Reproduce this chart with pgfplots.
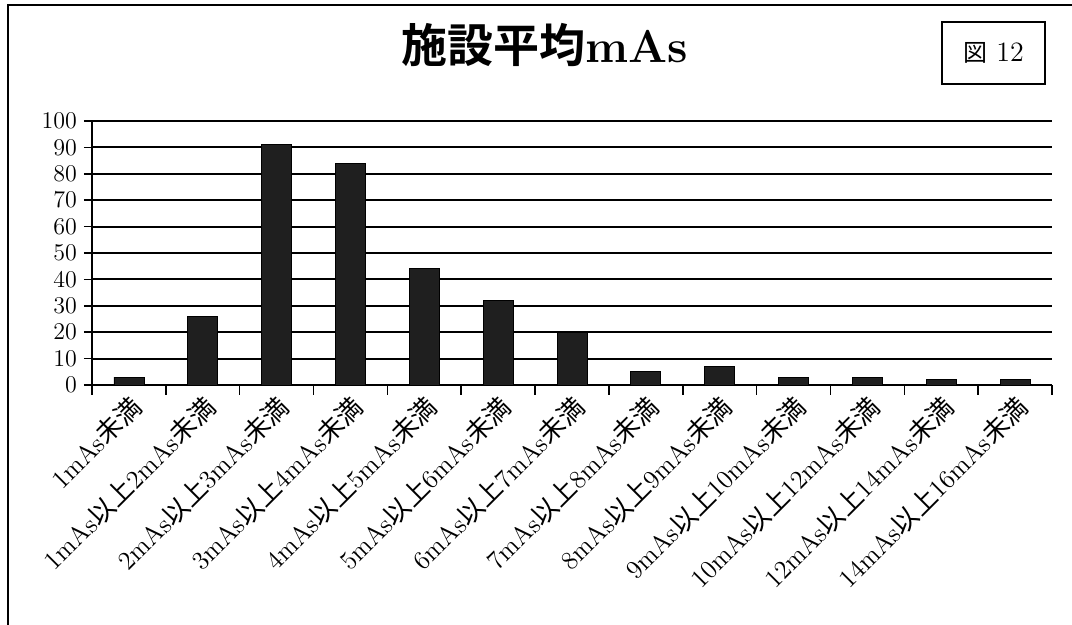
\documentclass[border=0pt]{standalone}
\usepackage{fontspec}
\usepackage{pgfplots}
\pgfplotsset{compat=1.18}
\newfontfamily\cjk{Noto Sans CJK JP}
\newfontfamily\cjkb{Noto Sans CJK JP Bold}
\newcommand{\J}[1]{{\cjk #1}}
\begin{document}
\begin{tikzpicture}
\useasboundingbox (0,0) rectangle (536pt,312.5pt);
% frame of the scanned page
\draw[line width=1pt] (4pt,0) -- (4pt,310pt) -- (536pt,310pt);
\node[font=\fontsize{23}{23}\selectfont] at (272.5pt,290pt) {{\cjkb 施設平均}\textbf{mAs}};
\node[draw, line width=0.9pt, minimum width=51.5pt, minimum height=31pt,
      font=\fontsize{14}{14}\selectfont] at (496.75pt,286pt) {{\fontsize{12}{12}\selectfont\J{図}} 12};
\begin{axis}[
    at={(46pt,120pt)}, anchor=south west,
    scale only axis, width=480pt, height=132pt,
    xmin=-0.5, xmax=12.5, ymin=0, ymax=100,
    axis x line*=bottom, axis y line*=left,
    axis line style={line width=0.8pt},
    ytick={0,10,...,100},
    ymajorgrids, grid style={black, line width=1pt},
    xtick={0,...,12},
    xticklabels={
        1mAs\J{未満},
        1mAs\J{以上}2mAs\J{未満},
        2mAs\J{以上}3mAs\J{未満},
        3mAs\J{以上}4mAs\J{未満},
        4mAs\J{以上}5mAs\J{未満},
        5mAs\J{以上}6mAs\J{未満},
        6mAs\J{以上}7mAs\J{未満},
        7mAs\J{以上}8mAs\J{未満},
        8mAs\J{以上}9mAs\J{未満},
        9mAs\J{以上}10mAs\J{未満},
        10mAs\J{以上}12mAs\J{未満},
        12mAs\J{以上}14mAs\J{未満},
        14mAs\J{以上}16mAs\J{未満}},
    major x tick style={draw=none},
    minor xtick={-0.5,0.5,...,12.5},
    minor tick length=5pt,
    major tick length=4pt,
    tick align=outside,
    tick style={black, line width=0.8pt},
    xticklabel style={rotate=45, anchor=east, font=\fontsize{13}{13}\selectfont, yshift=-6pt, xshift=3pt},
    yticklabel style={font=\fontsize{13}{13}\selectfont},
    clip=false,
]
\addplot[ybar, bar width=15pt, fill=black!88, draw=black] coordinates {
    (0,3) (1,26) (2,91) (3,84) (4,44) (5,32) (6,20)
    (7,5) (8,7) (9,3) (10,3) (11,2) (12,2)
};
\end{axis}
\end{tikzpicture}
\end{document}
